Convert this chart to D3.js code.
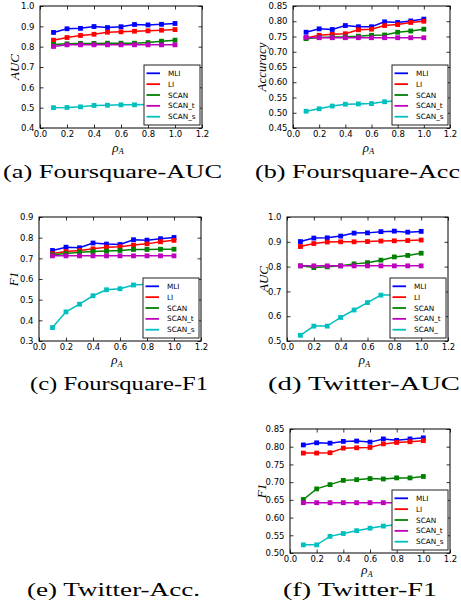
<!DOCTYPE html>
<html>
<head>
<meta charset="utf-8">
<script src="https://cdn.jsdelivr.net/npm/d3@7/dist/d3.min.js"></script>
<style>
  body { margin: 0; background: #fff; }
  svg { display: block; }
</style>
</head>
<body>
<div id="wrapper"></div>
<script>
// ---- data ----
const rhoA = [0.1, 0.2, 0.3, 0.4, 0.5, 0.6, 0.7, 0.8, 0.9, 1.0];
const methods = ["MLI", "LI", "SCAN", "SCAN_t", "SCAN_s"];
const methodColors = ["#0000ff", "#ff0000", "#008000", "#bf00bf", "#00bfbf"];

// series order follows `methods`
const foursquareAuc = [
  [0.870, 0.888, 0.890, 0.899, 0.894, 0.898, 0.909, 0.907, 0.910, 0.914],
  [0.832, 0.845, 0.855, 0.861, 0.871, 0.873, 0.876, 0.878, 0.881, 0.884],
  [0.811, 0.814, 0.816, 0.816, 0.817, 0.817, 0.817, 0.820, 0.827, 0.832],
  [0.801, 0.809, 0.809, 0.809, 0.809, 0.809, 0.809, 0.809, 0.809, 0.809],
  [0.500, 0.501, 0.504, 0.511, 0.512, 0.514, 0.514, 0.516, 0.517, 0.518],
];
const foursquareAcc = [
  [0.764, 0.775, 0.773, 0.786, 0.782, 0.782, 0.798, 0.796, 0.801, 0.807],
  [0.745, 0.754, 0.757, 0.759, 0.772, 0.774, 0.786, 0.789, 0.796, 0.800],
  [0.743, 0.747, 0.748, 0.749, 0.751, 0.754, 0.755, 0.764, 0.768, 0.774],
  [0.747, 0.746, 0.746, 0.746, 0.746, 0.746, 0.746, 0.746, 0.746, 0.746],
  [0.505, 0.513, 0.522, 0.528, 0.529, 0.530, 0.536, 0.540, 0.542, 0.545],
];
const foursquareF1 = [
  [0.738, 0.754, 0.751, 0.774, 0.769, 0.767, 0.790, 0.788, 0.795, 0.801],
  [0.723, 0.733, 0.738, 0.746, 0.754, 0.756, 0.764, 0.770, 0.780, 0.787],
  [0.717, 0.723, 0.730, 0.733, 0.735, 0.738, 0.743, 0.743, 0.744, 0.744],
  [0.712, 0.712, 0.712, 0.712, 0.712, 0.712, 0.712, 0.712, 0.712, 0.712],
  [0.365, 0.441, 0.478, 0.519, 0.548, 0.553, 0.571, 0.575, 0.580, 0.585],
];
const twitterAuc = [
  [0.901, 0.915, 0.916, 0.923, 0.935, 0.936, 0.941, 0.943, 0.939, 0.942],
  [0.881, 0.893, 0.899, 0.900, 0.900, 0.901, 0.903, 0.904, 0.905, 0.907],
  [0.803, 0.796, 0.799, 0.803, 0.811, 0.816, 0.826, 0.839, 0.845, 0.854],
  [0.803, 0.803, 0.803, 0.803, 0.803, 0.803, 0.803, 0.803, 0.803, 0.803],
  [0.523, 0.560, 0.560, 0.595, 0.625, 0.655, 0.685, 0.685, 0.690, 0.700],
];
const twitterF1 = [
  [0.805, 0.811, 0.810, 0.815, 0.816, 0.813, 0.822, 0.818, 0.822, 0.825],
  [0.782, 0.782, 0.783, 0.796, 0.797, 0.798, 0.808, 0.812, 0.814, 0.817],
  [0.651, 0.681, 0.693, 0.705, 0.707, 0.710, 0.709, 0.712, 0.712, 0.716],
  [0.642, 0.642, 0.642, 0.642, 0.642, 0.642, 0.642, 0.642, 0.642, 0.642],
  [0.523, 0.523, 0.547, 0.555, 0.563, 0.570, 0.576, 0.580, 0.585, 0.590],
];

const xTicks = [0, 0.2, 0.4, 0.6, 0.8, 1.0, 1.2];
const ticksAuc = [0.4, 0.5, 0.6, 0.7, 0.8, 0.9, 1.0];
const ticksAcc = [0.45, 0.5, 0.55, 0.6, 0.65, 0.7, 0.75, 0.8, 0.85];
const ticksF1 = [0.3, 0.4, 0.5, 0.6, 0.7, 0.8, 0.9];
const ticksTwAuc = [0.5, 0.6, 0.7, 0.8, 0.9, 1.0];
const ticksTwF1 = [0.5, 0.55, 0.6, 0.65, 0.7, 0.75, 0.8, 0.85];

const legendLabels = ["MLI", "LI", "SCAN", "SCAN_t", "SCAN_s"];
const legendLabelsTwAuc = ["MLI", "LI", "SCAN", "SCAN_t", "SCAN_"];

const captions = [
  "(a) Foursquare-AUC", "(b) Foursquare-Acc", "(c) Foursquare-F1",
  "(d) Twitter-AUC", "(e) Twitter-Acc.", "(f) Twitter-F1",
];

// ---- layout ----
const width = 461;
const height = 610;
const svg = d3.select("#wrapper").append("svg")
  .attr("width", width).attr("height", height);

const serif = "'Liberation Serif', 'DejaVu Serif', serif";
const sans = "'DejaVu Sans', sans-serif";

function drawPanel(p) {
  const g = svg.append("g").attr("transform", `translate(${p.left},${p.top})`);
  const xScale = d3.scaleLinear().domain([0, 1.2]).range([0, p.w]);
  const yScale = d3.scaleLinear().domain(d3.extent(p.yTicks)).range([p.h, 0]);
  const clipId = "clip-" + p.id;

  g.append("clipPath").attr("id", clipId)
    .append("rect").attr("width", p.w).attr("height", p.h);

  // series
  const lineGen = d3.line().x((d, i) => xScale(rhoA[i])).y((d) => yScale(d));
  const plot = g.append("g").attr("clip-path", `url(#${clipId})`);
  p.series.forEach((vals, k) => {
    plot.append("path")
      .attr("d", lineGen(vals))
      .attr("fill", "none")
      .attr("stroke", methodColors[k])
      .attr("stroke-width", 1.5);
    plot.selectAll(null).data(vals).join("rect")
      .attr("x", (d, i) => xScale(rhoA[i]) - 2.4)
      .attr("y", (d) => yScale(d) - 2.4)
      .attr("width", 4.8).attr("height", 4.8)
      .attr("fill", methodColors[k]);
  });

  // axes (ticks pointing inward, on all four sides)
  const tickLen = 3.5;
  const bottom = g.append("g").attr("transform", `translate(0,${p.h})`)
    .call(d3.axisBottom(xScale).tickValues(xTicks).tickFormat(d3.format(".1f"))
      .tickSizeInner(-tickLen).tickSizeOuter(0).tickPadding(3));
  const left = g.append("g")
    .call(d3.axisLeft(yScale).tickValues(p.yTicks).tickFormat(d3.format(p.fmt))
      .tickSizeInner(-tickLen).tickSizeOuter(0).tickPadding(5.5));
  const top = g.append("g")
    .call(d3.axisTop(xScale).tickValues(xTicks).tickFormat("")
      .tickSizeInner(-tickLen).tickSizeOuter(0));
  const right = g.append("g").attr("transform", `translate(${p.w},0)`)
    .call(d3.axisRight(yScale).tickValues(p.yTicks).tickFormat("")
      .tickSizeInner(-tickLen).tickSizeOuter(0));
  [bottom, left, top, right].forEach((a) => {
    a.select(".domain").remove();
    a.selectAll("line").attr("stroke", "#000").attr("stroke-width", 0.8);
    a.selectAll("text").attr("font-family", sans).attr("font-size", 8.5).attr("fill", "#000");
  });

  g.append("rect")
    .attr("width", p.w).attr("height", p.h)
    .attr("fill", "none").attr("stroke", "#000").attr("stroke-width", 1);

  // legend
  const lw = 56, lh = 60;
  const lg = g.append("g").attr("transform", `translate(${p.w - 2 - lw},${p.h - 3 - lh})`);
  lg.append("rect").attr("width", lw).attr("height", lh)
    .attr("fill", "#fff").attr("stroke", "#222").attr("stroke-width", 1);
  p.legend.forEach((name, k) => {
    const yy = 8.3 + k * 10.85;
    lg.append("line").attr("x1", 2.5).attr("x2", 16).attr("y1", yy).attr("y2", yy)
      .attr("stroke", methodColors[k]).attr("stroke-width", 1.8);
    lg.append("text").attr("x", 24).attr("y", yy + 2.6)
      .attr("font-family", sans).attr("font-size", 7.3).text(name);
  });

  // y label
  g.append("text")
    .attr("transform", `translate(${p.ylabX},${p.h / 2}) rotate(-90)`)
    .attr("text-anchor", "middle")
    .attr("font-family", serif).attr("font-style", "italic").attr("font-size", 13)
    .text(p.ylabel);

  // x label rho_A
  const xl = g.append("text")
    .attr("x", p.w / 2 - 3).attr("y", p.h + p.xlabDy)
    .attr("text-anchor", "middle")
    .attr("font-family", serif).attr("font-style", "italic").attr("font-size", 13);
  xl.append("tspan").text("\u03C1");
  xl.append("tspan").attr("font-size", 8.5).attr("dy", 2.5).text("A");
}

const panels = [
  { id: "a", left: 40, top: 6, w: 162, h: 122, yTicks: ticksAuc, fmt: ".1f",
    series: foursquareAuc, legend: legendLabels, ylabel: "AUC", ylabX: -20.7, xlabDy: 23.5 },
  { id: "b", left: 293, top: 6, w: 157, h: 122, yTicks: ticksAcc, fmt: ".2f",
    series: foursquareAcc, legend: legendLabels, ylabel: "Accuracy", ylabX: -27.5, xlabDy: 23.5 },
  { id: "c", left: 39, top: 217, w: 162, h: 124, yTicks: ticksF1, fmt: ".1f",
    series: foursquareF1, legend: legendLabels, ylabel: "F1", ylabX: -21.5, xlabDy: 23 },
  { id: "d", left: 287, top: 217, w: 161, h: 124, yTicks: ticksTwAuc, fmt: ".1f",
    series: twitterAuc, legend: legendLabelsTwAuc, ylabel: "AUC", ylabX: -19.5, xlabDy: 23 },
  { id: "f", left: 290, top: 429, w: 160, h: 124, yTicks: ticksTwF1, fmt: ".2f",
    series: twitterF1, legend: legendLabels, ylabel: "F1", ylabX: -24, xlabDy: 21 },
];
panels.forEach(drawPanel);

// captions
const captionPos = [
  { x: 112.5, y: 178, len: 219 }, { x: 357.5, y: 178, len: 205 },
  { x: 119, y: 390, len: 178 }, { x: 364, y: 390, len: 192 },
  { x: 113.5, y: 596, len: 173 }, { x: 360, y: 596, len: 154 },
];
captions.forEach((c, i) => {
  svg.append("text")
    .attr("x", captionPos[i].x - captionPos[i].len / 2).attr("y", captionPos[i].y)
    .attr("textLength", captionPos[i].len).attr("lengthAdjust", "spacingAndGlyphs")
    .attr("font-family", serif).attr("font-size", 19.5)
    .text(c);
});
</script>
</body>
</html>
